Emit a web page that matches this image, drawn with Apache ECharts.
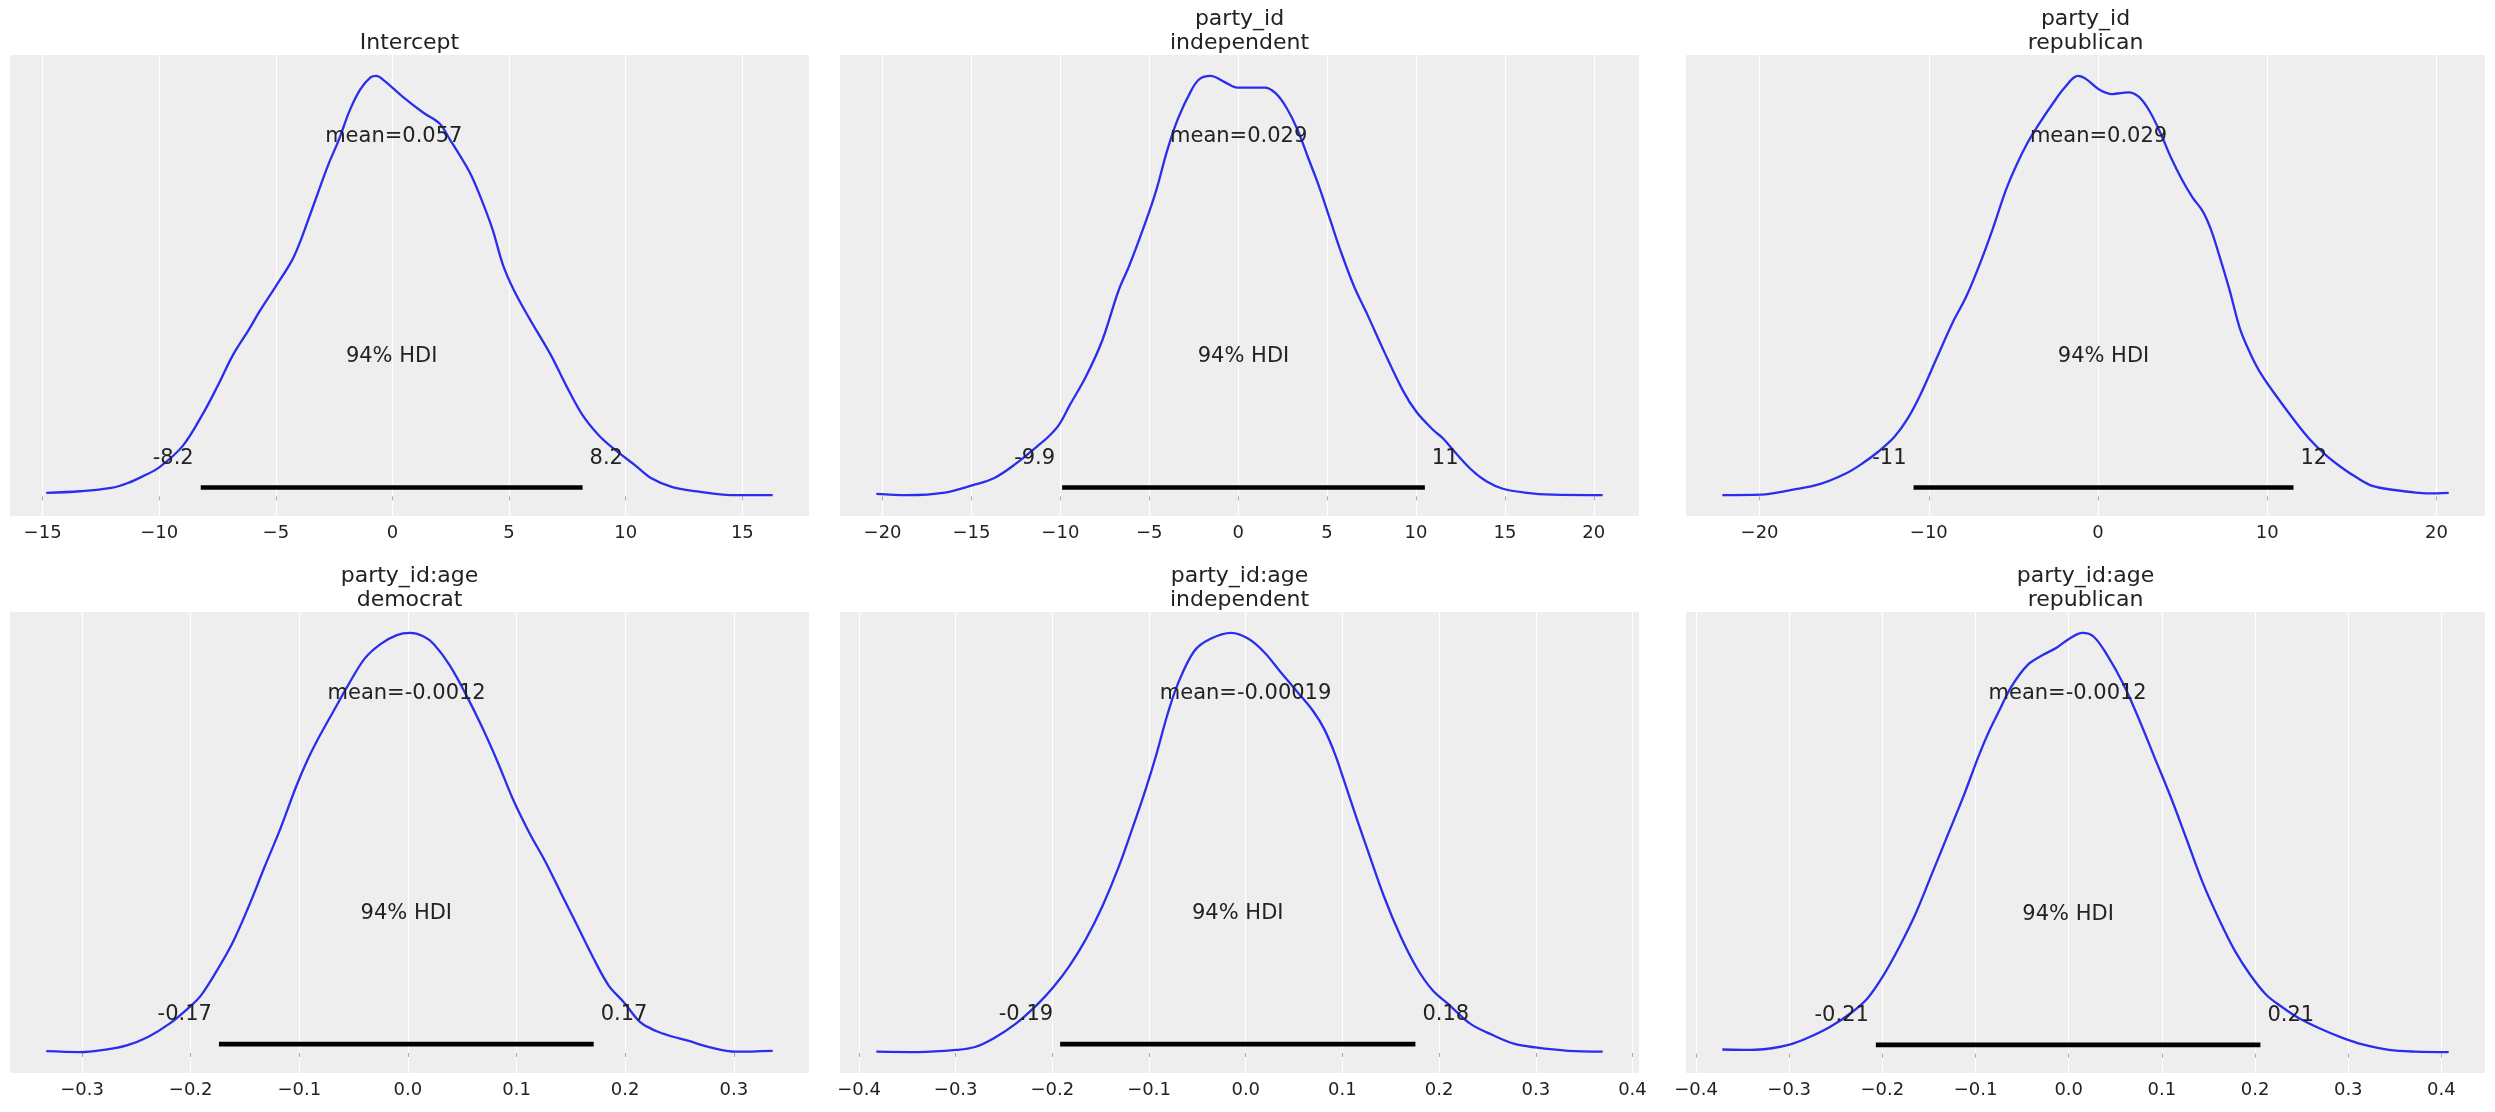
<!DOCTYPE html>
<html><head><meta charset="utf-8">
<script src="https://cdn.jsdelivr.net/npm/echarts@6/dist/echarts.min.js"></script>
<style>html,body{margin:0;padding:0;background:#fff}#c{width:2495px;height:1112px}</style>
</head><body><div id="c"></div>
<script>
// ---------- data ----------
const titles = ['Intercept', 'party_id\nindependent', 'party_id\nrepublican',
                'party_id:age\ndemocrat', 'party_id:age\nindependent', 'party_id:age\nrepublican'];

const interceptX = [-14.84,-13.4,-12.05,-11.37,-10.69,-10.0,-8.99,-8.08,-7.51,-6.83,-6.15,-5.7,-5.01,-4.33,-3.99,-3.65,-3.2,-2.75,-2.3,-1.84,-1.38,-0.93,-0.7,-0.36,0.43,1.34,2.02,2.47,3.04,3.38,3.83,4.29,4.74,5.2,5.88,6.78,7.47,8.15,8.83,9.51,10.42,11.1,12.0,13.14,14.5,16.3];
const interceptY = [0.008,0.012,0.02,0.031,0.048,0.069,0.12,0.201,0.261,0.337,0.397,0.44,0.499,0.559,0.601,0.652,0.721,0.789,0.848,0.917,0.968,0.997,1.0,0.989,0.951,0.912,0.887,0.848,0.797,0.763,0.704,0.635,0.55,0.491,0.422,0.337,0.261,0.193,0.146,0.112,0.073,0.043,0.022,0.011,0.003,0.003];

const pidIndX = [-20.35,-18.61,-16.48,-14.96,-13.74,-12.52,-11.3,-10.69,-10.08,-9.47,-8.56,-7.65,-6.73,-6.12,-5.21,-4.6,-3.99,-3.38,-2.62,-2.16,-1.55,-0.79,-0.03,0.58,1.49,2.1,2.71,3.32,3.93,4.54,5.15,5.76,6.52,7.28,8.19,9.26,10.02,10.94,11.54,12.15,13.07,13.98,14.89,16.11,17.64,20.5];
const pidIndY = [0.006,0.003,0.009,0.026,0.043,0.077,0.119,0.141,0.17,0.217,0.285,0.37,0.489,0.549,0.652,0.729,0.823,0.899,0.967,0.993,1.0,0.986,0.972,0.972,0.972,0.959,0.925,0.874,0.806,0.738,0.661,0.584,0.499,0.431,0.346,0.252,0.201,0.159,0.137,0.107,0.065,0.035,0.018,0.009,0.004,0.003];

const pidRepX = [-22.2,-19.91,-18.02,-16.45,-14.87,-13.93,-12.99,-12.04,-11.26,-10.47,-9.53,-8.58,-7.8,-7.01,-6.23,-5.44,-4.81,-4.18,-3.55,-2.61,-1.98,-1.19,-0.72,0.06,0.85,1.79,2.42,3.05,3.68,4.31,4.94,5.57,6.19,6.67,7.14,7.77,8.4,9.03,9.65,10.6,11.54,12.48,13.43,14.37,15.31,16.26,17.52,18.77,20.03,20.72];
const pidRepY = [0.003,0.004,0.016,0.029,0.055,0.078,0.106,0.141,0.184,0.244,0.329,0.414,0.474,0.55,0.635,0.729,0.789,0.84,0.882,0.938,0.972,1.0,0.993,0.968,0.957,0.961,0.95,0.916,0.865,0.806,0.755,0.712,0.678,0.635,0.576,0.491,0.397,0.337,0.29,0.235,0.184,0.137,0.099,0.069,0.044,0.024,0.015,0.009,0.007,0.008];

const ageDemX = [-0.3329,-0.3026,-0.2783,-0.2588,-0.2393,-0.2198,-0.2003,-0.1905,-0.1759,-0.1613,-0.1467,-0.1321,-0.1174,-0.1028,-0.0931,-0.0833,-0.0687,-0.0541,-0.0395,-0.0249,-0.0102,0.0019,0.0141,0.0239,0.0385,0.0531,0.0677,0.0824,0.097,0.1116,0.1262,0.1408,0.1555,0.1701,0.1847,0.1993,0.2139,0.2285,0.2432,0.2578,0.2773,0.3017,0.3358];
const ageDemY = [0.004,0.002,0.008,0.018,0.038,0.069,0.111,0.137,0.196,0.263,0.348,0.442,0.534,0.635,0.694,0.745,0.813,0.88,0.94,0.974,0.995,1.0,0.992,0.973,0.923,0.855,0.779,0.694,0.602,0.525,0.457,0.381,0.305,0.229,0.161,0.119,0.073,0.052,0.039,0.029,0.014,0.003,0.005];

const ageIndX = [-0.3821,-0.3389,-0.2997,-0.2801,-0.2605,-0.2381,-0.2157,-0.1989,-0.1821,-0.1653,-0.1485,-0.1317,-0.1148,-0.1036,-0.0924,-0.0812,-0.07,-0.0532,-0.0364,-0.0151,0.0028,0.0196,0.0364,0.0532,0.07,0.0812,0.0924,0.1036,0.1148,0.1261,0.1429,0.1597,0.1765,0.1933,0.2101,0.2325,0.2549,0.2773,0.2997,0.3333,0.3692];
const ageIndY = [0.003,0.002,0.007,0.014,0.035,0.069,0.115,0.157,0.208,0.271,0.348,0.441,0.551,0.627,0.711,0.804,0.88,0.957,0.986,1.0,0.986,0.953,0.906,0.86,0.813,0.771,0.711,0.635,0.558,0.483,0.373,0.28,0.204,0.149,0.115,0.069,0.043,0.022,0.013,0.005,0.003];

const ageRepX = [-0.3718,-0.3415,-0.3187,-0.2987,-0.2787,-0.2559,-0.233,-0.2159,-0.1987,-0.1816,-0.1645,-0.1473,-0.1302,-0.1131,-0.0959,-0.0845,-0.0731,-0.0617,-0.0445,-0.0274,-0.0131,0.0011,0.0148,0.0268,0.0411,0.0583,0.0754,0.0925,0.1097,0.1268,0.1439,0.161,0.1782,0.1953,0.2125,0.2296,0.2467,0.2696,0.2924,0.3153,0.3438,0.3724,0.4078];
const ageRepY = [0.010,0.009,0.013,0.022,0.039,0.064,0.098,0.132,0.187,0.255,0.332,0.425,0.518,0.611,0.712,0.771,0.822,0.872,0.923,0.948,0.965,0.987,1.0,0.991,0.948,0.88,0.795,0.702,0.609,0.508,0.406,0.321,0.245,0.186,0.139,0.11,0.085,0.06,0.039,0.022,0.009,0.005,0.004];

const means = [0.057, 0.029, 0.029, -0.0012, -0.00019, -0.0012];
const hdiLow = [-8.22, -9.9, -10.9, -0.174, -0.192, -0.207];
const hdiHigh = [8.15, 10.5, 11.55, 0.171, 0.1755, 0.2057];
const hdiLowLabels = ['-8.2', '-9.9', '-11', '-0.17', '-0.19', '-0.21'];
const hdiHighLabels = ['8.2', '11', '12', '0.17', '0.18', '0.21'];
const hdiText = '94% HDI';

const ticks1 = [-15, -10, -5, 0, 5, 10, 15];
const ticks2 = [-20, -15, -10, -5, 0, 5, 10, 15, 20];
const ticks3 = [-20, -10, 0, 10, 20];
const ticks4 = [-0.3, -0.2, -0.1, 0, 0.1, 0.2, 0.3];
const ticks5 = [-0.4, -0.3, -0.2, -0.1, 0, 0.1, 0.2, 0.3, 0.4];
const ticks6 = [-0.4, -0.3, -0.2, -0.1, 0, 0.1, 0.2, 0.3, 0.4];
const tickLabels1 = ['\u221215', '\u221210', '\u22125', '0', '5', '10', '15'];
const tickLabels2 = ['\u221220', '\u221215', '\u221210', '\u22125', '0', '5', '10', '15', '20'];
const tickLabels3 = ['\u221220', '\u221210', '0', '10', '20'];
const tickLabels4 = ['\u22120.3', '\u22120.2', '\u22120.1', '0.0', '0.1', '0.2', '0.3'];
const tickLabels5 = ['\u22120.4', '\u22120.3', '\u22120.2', '\u22120.1', '0.0', '0.1', '0.2', '0.3', '0.4'];
const tickLabels6 = ['\u22120.4', '\u22120.3', '\u22120.2', '\u22120.1', '0.0', '0.1', '0.2', '0.3', '0.4'];

// ---------- layout / style ----------
const kdeXs = [interceptX, pidIndX, pidRepX, ageDemX, ageIndX, ageRepX];
const kdeYs = [interceptY, pidIndY, pidRepY, ageDemY, ageIndY, ageRepY];
const ticksAll = [ticks1, ticks2, ticks3, ticks4, ticks5, ticks6];
const tickLabelsAll = [tickLabels1, tickLabels2, tickLabels3, tickLabels4, tickLabels5, tickLabels6];

const FONT = 'DejaVu Sans';
const TXT = '#222222';
const colLeft = [10, 840, 1686];
const rowTop = [55, 612];
const W = 799, H = 461;
const LINE_H = 23.5;

const grids = [], xAxes = [], yAxes = [], series = [], titleOpts = [];
const marginFn = {
  min: v => v.min - 0.05 * (v.max - v.min),
  max: v => v.max + 0.05 * (v.max - v.min)
};

for (let i = 0; i < 6; i++) {
  const r = Math.floor(i / 3), c = i % 3;
  const left = colLeft[c], top = rowTop[r];
  grids.push({left: left, top: top, width: W, height: H, show: true,
              backgroundColor: '#eeeeee', borderWidth: 0, containLabel: false});

  const tk = ticksAll[i], tl = tickLabelsAll[i];
  const step = +(tk[1] - tk[0]).toFixed(6);
  xAxes.push({
    type: 'value', gridIndex: i,
    min: marginFn.min, max: marginFn.max,
    minInterval: step, maxInterval: step,
    axisLine: {show: false},
    axisTick: {show: true, customValues: tk, length: 4, lineStyle: {color: '#a8a8a8', width: 1}},
    axisLabel: {
      customValues: tk, margin: 8, fontSize: 18, color: TXT, fontFamily: FONT,
      formatter: function (v) {
        let best = 0, bd = Infinity;
        tk.forEach((t, j) => { const d = Math.abs(t - v); if (d < bd) { bd = d; best = j; } });
        return tl[best];
      }
    },
    splitLine: {show: true, lineStyle: {color: '#ffffff', width: 1}}
  });
  yAxes.push({type: 'value', gridIndex: i, show: false,
              min: marginFn.min, max: marginFn.max, splitLine: {show: false}});

  const xs = kdeXs[i], ys = kdeYs[i];
  const ymin = Math.min(...ys), ymax = Math.max(...ys);
  const plotTop = ymax + 0.05 * (ymax - ymin);

  series.push({
    type: 'line', xAxisIndex: i, yAxisIndex: i,
    data: xs.map((x, j) => [x, ys[j]]),
    smooth: 0.35, symbol: 'none', showSymbol: false, silent: true,
    lineStyle: {color: '#2a2eec', width: 2.3}, z: 2
  });
  series.push({
    type: 'line', xAxisIndex: i, yAxisIndex: i,
    data: [[hdiLow[i], plotTop * 0.02], [hdiHigh[i], plotTop * 0.02]],
    symbol: 'none', showSymbol: false, silent: true,
    lineStyle: {color: '#000000', width: 4.7, cap: 'butt'}, z: 3
  });
  const lbl = (txt, align, dx) => ({
    show: true, formatter: txt, position: 'inside', align: align, verticalAlign: 'middle',
    offset: [dx, -7], fontSize: 21, color: TXT, fontFamily: FONT,
    textBorderWidth: 0, textBorderColor: 'transparent', opacity: 1
  });
  series.push({
    type: 'scatter', xAxisIndex: i, yAxisIndex: i, silent: true,
    symbolSize: 1, itemStyle: {color: 'rgba(0,0,0,0)'}, z: 5,
    data: [
      {value: [means[i], plotTop * 0.8], label: lbl('mean=' + String(means[i]), 'center', 0)},
      {value: [(hdiLow[i] + hdiHigh[i]) / 2, plotTop * 0.3], label: lbl(hdiText, 'center', 0)},
      {value: [hdiLow[i], plotTop * 0.07], label: lbl(hdiLowLabels[i], 'right', -7)},
      {value: [hdiHigh[i], plotTop * 0.07], label: lbl(hdiHighLabels[i], 'left', 7)}
    ]
  });

  const nLines = titles[i].split('\n').length;
  const lastCenter = top - 12;
  titleOpts.push({
    text: titles[i], left: left + W / 2, top: lastCenter - (nLines - 0.5) * LINE_H,
    textAlign: 'center', padding: 0,
    textStyle: {fontSize: 22, fontWeight: 'normal', color: TXT, fontFamily: FONT, lineHeight: LINE_H}
  });
}

const chart = echarts.init(document.getElementById('c'), null, {renderer: 'canvas'});
chart.setOption({
  animation: false,
  backgroundColor: '#ffffff',
  title: titleOpts,
  grid: grids,
  xAxis: xAxes,
  yAxis: yAxes,
  series: series
});
</script></body></html>
